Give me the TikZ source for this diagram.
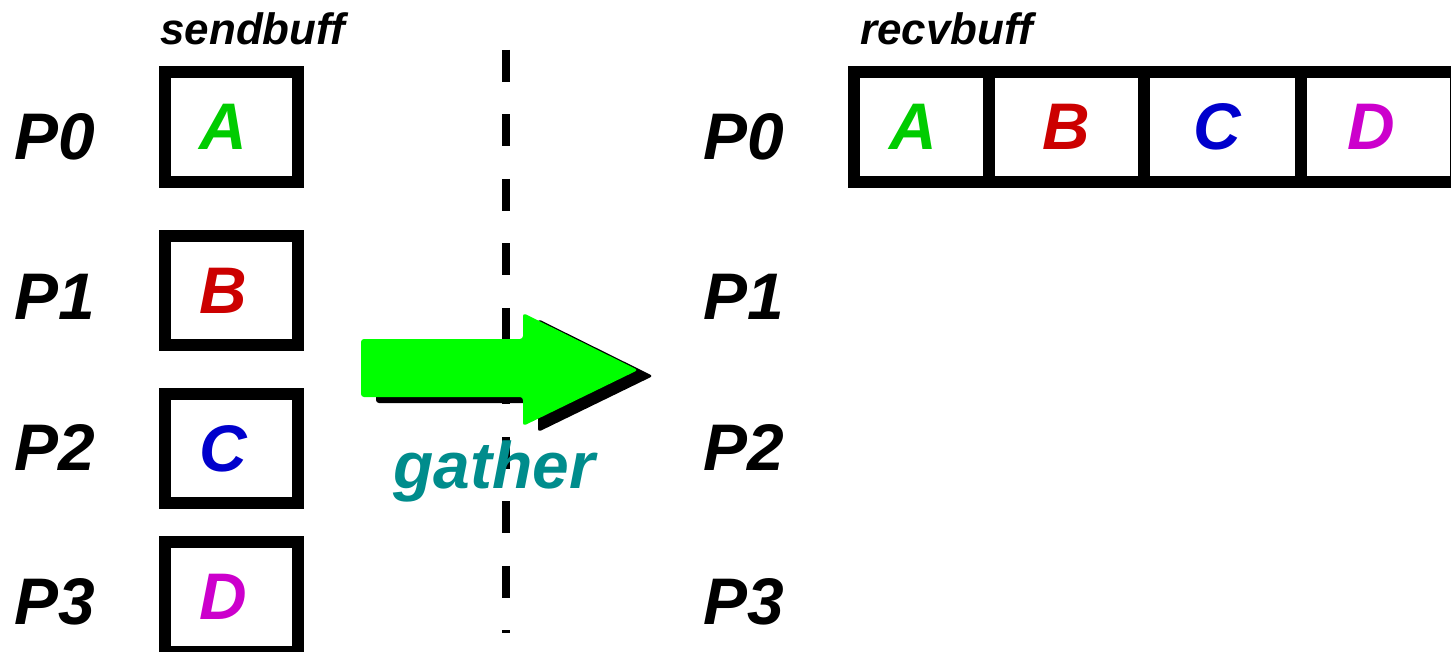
\documentclass[tikz,border=0pt]{standalone}
\usepackage{fontspec}
\setsansfont{Liberation Sans}
\usetikzlibrary{positioning}
\definecolor{ltrA}{HTML}{00CC00}
\definecolor{ltrB}{HTML}{CC0000}
\definecolor{ltrC}{HTML}{0000CC}
\definecolor{ltrD}{HTML}{CC00CC}
\definecolor{gathercolor}{HTML}{008C8C}
\definecolor{arrowgreen}{HTML}{00FF00}

\begin{document}
\begin{tikzpicture}[
  x=0.02cm, y=-0.02cm,
  bigfont/.style={font=\sffamily\bfseries\itshape\fontsize{37.5}{40}\selectfont},
  proclabel/.style={bigfont, inner sep=0pt},
  buflabel/.style={font=\sffamily\bfseries\itshape\fontsize{25}{28}\selectfont, inner sep=0pt, anchor=base west},
  nudge/.style={execute at begin node={\kern#1}},
  sendbox/.style={draw, line width=0.24cm, minimum width=2.66cm, minimum height=2.2cm, inner sep=0pt, bigfont,
    nudge=-0.34cm},
  recvcell/.style={draw, line width=0.24cm, minimum height=2.2cm, inner sep=0pt, outer sep=0pt, bigfont},
  blockarrow/.style={rounded corners=0.06cm}
]
\useasboundingbox (0,0) rectangle (1451,652);

% dividing line
\coordinate (divtop) at (506,50);
\coordinate (divbot) at (506,632.5);
\draw[line width=0.16cm, dash pattern=on 0.64cm off 0.65cm] (divtop) -- (divbot);

% send side
\node[buflabel] (sendbuff) at (160,45) {sendbuff};
\node[proclabel] (sendP0) at (55,137) {P0};
\node[proclabel] (sendP1) at (55,297) {P1};
\node[proclabel] (sendP2) at (55,447) {P2};
\node[proclabel] (sendP3) at (55,602) {P3};
\node[sendbox, text=ltrA] (boxA) at (231.5,127) {A};
\node[sendbox, text=ltrB] (boxB) at (231.5,290.5) {B};
\node[sendbox, text=ltrC] (boxC) at (231.5,448.5) {C};
\node[sendbox, text=ltrD] (boxD) at (231.5,597) {D};

% gather arrow
\fill[black, blockarrow, shift={(15,6)}] (361,339) -- (523,339) -- (523,313) -- (638,370)
  -- (523,426) -- (523,397) -- (361,397) -- cycle;
\fill[arrowgreen, blockarrow] (361,339) -- (523,339) -- (523,313) -- (638,370)
  -- (523,426) -- (523,397) -- (361,397) -- cycle;
\node[bigfont, text=gathercolor, inner sep=0pt, anchor=base] (gather) at (494,488) {gather};

% receive side
\node[buflabel] (recvbuff) at (860,45) {recvbuff};
\node[proclabel] (recvP0) at (744,137) {P0};
\node[proclabel] (recvP1) at (744,297) {P1};
\node[proclabel] (recvP2) at (744,447) {P2};
\node[proclabel] (recvP3) at (744,602) {P3};
\node[recvcell, minimum width=2.7cm, text=ltrA, nudge=-0.34cm] (cellA) at (921.5,127) {A};
\node[recvcell, minimum width=3.1cm, text=ltrB, right=0pt of cellA] (cellB) {B};
\node[recvcell, minimum width=3.14cm, text=ltrC, nudge=-0.2cm, right=0pt of cellB] (cellC) {C};
\node[recvcell, minimum width=3.1cm, text=ltrD, nudge=-0.28cm, right=0pt of cellC] (cellD) {D};
\end{tikzpicture}
\end{document}
